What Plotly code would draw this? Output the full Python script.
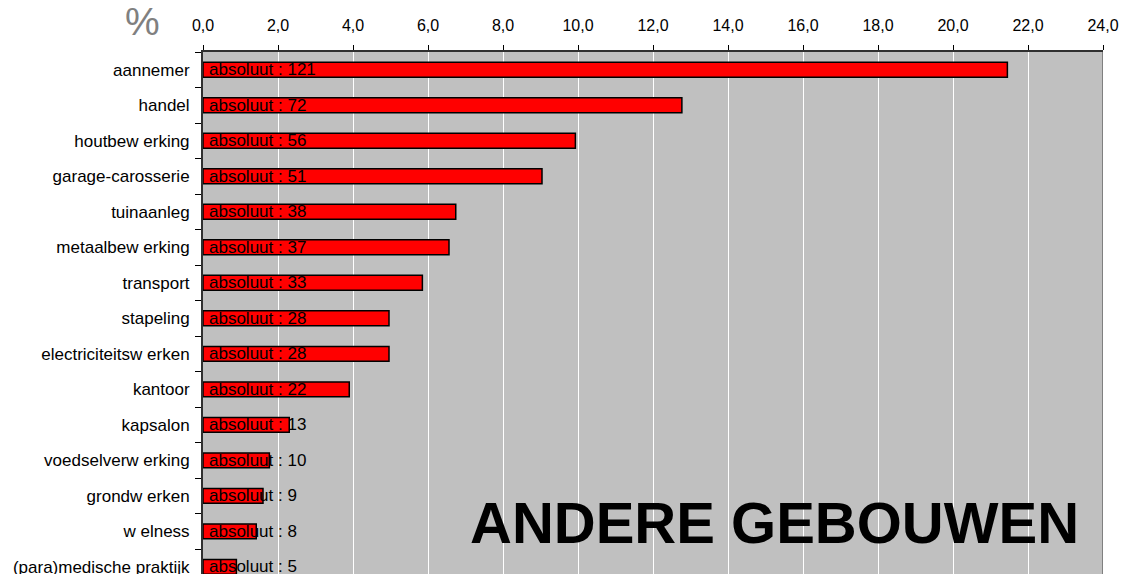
import plotly.graph_objects as go

categories = ["aannemer", "handel", "houtbew erking", "garage-carosserie", "tuinaanleg",
              "metaalbew erking", "transport", "stapeling", "electriciteitsw erken", "kantoor",
              "kapsalon", "voedselverw erking", "grondw erken", "w elness", "(para)medische praktijk"]
percent = [21.45, 12.77, 9.93, 9.04, 6.74, 6.56, 5.85, 4.96, 4.96, 3.90,
           2.30, 1.77, 1.60, 1.42, 0.89]
absolute = [121, 72, 56, 51, 38, 37, 33, 28, 28, 22, 13, 10, 9, 8, 5]
labels = ["absoluut : %d" % v for v in absolute]
title_text = "ANDERE GEBOUWEN"

FONT = "Arial, Liberation Sans, sans-serif"

W, H = 1122, 574
L, T, R = 203, 52, 19
PW, PH = W - L - R, H - T

fig = go.Figure()
fig.add_trace(go.Bar(
    x=percent, y=categories, orientation="h", width=0.42,
    marker=dict(color="#FF0000", line=dict(color="#000000", width=1.5)),
    hoverinfo="skip", showlegend=False,
))

annotations = [
    dict(text=lab, x=0, y=cat, xref="x", yref="y", xanchor="left", yanchor="middle",
         xshift=4, showarrow=False, font=dict(family=FONT, size=17, color="#000000"))
    for lab, cat in zip(labels, categories)
]
annotations += [
    dict(text=title_text, xref="paper", yref="paper",
         x=(1081 - L) / PW, y=(574 - 522) / PH, xanchor="right", yanchor="middle",
         showarrow=False, font=dict(family=FONT, size=58, color="#000000", weight="bold")),
    dict(text="%", xref="paper", yref="paper",
         x=(142 - L) / PW, y=(574 - 22) / PH, xanchor="center", yanchor="middle",
         showarrow=False, font=dict(family=FONT, size=39, color="#808080")),
]

fig.update_layout(
    width=W, height=H,
    margin=dict(l=L, r=R, t=T, b=0, pad=0),
    paper_bgcolor="#FFFFFF", plot_bgcolor="#C0C0C0",
    separators=",.",
    font=dict(family=FONT, size=16, color="#000000"),
    xaxis=dict(
        side="top", range=[0, 24], dtick=2, tick0=0, tickformat=".1f",
        showgrid=True, gridcolor="#FFFFFF", gridwidth=1, zeroline=False,
        ticks="outside", ticklen=5, tickcolor="#000000", tickwidth=1,
        showline=True, linecolor="#303030", linewidth=2,
        tickfont=dict(family=FONT, size=16, color="#000000"),
        automargin=False, fixedrange=True, ticklabelstandoff=8,
        ticklabeloverflow="allow",
    ),
    yaxis=dict(
        type="category", categoryorder="array", categoryarray=categories,
        range=[14.2, -0.5], showgrid=False, zeroline=False,
        ticks="outside", tickson="boundaries", ticklen=6, tickcolor="#000000",
        showline=True, linecolor="#303030", linewidth=2,
        tickfont=dict(family=FONT, size=17, color="#000000"),
        automargin=False, fixedrange=True, ticklabelstandoff=8,
    ),
    shapes=[dict(type="line", xref="x", yref="paper", x0=24, x1=24, y0=0, y1=1,
                 line=dict(color="#808080", width=2))],
    annotations=annotations,
)

fig.write_html("out.html", config={"displayModeBar": False, "staticPlot": True},
               post_script="document.body.style.margin='0';document.body.style.overflow='hidden';")
